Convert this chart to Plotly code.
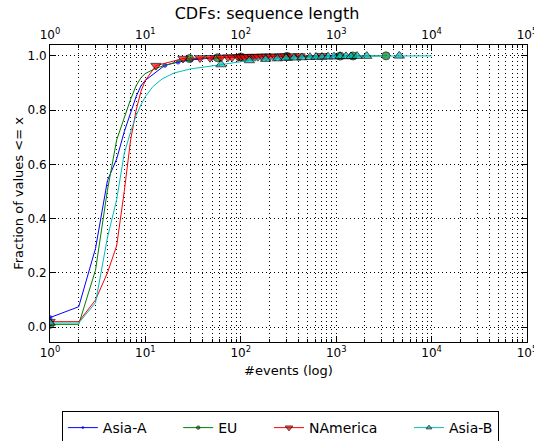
import plotly.graph_objects as go

# ---- data ----
series_names = ["Asia-A", "EU", "NAmerica", "Asia-B"]

asia_a_x = [1, 2, 3, 4, 5, 6, 7, 8, 9, 10, 16, 22, 30, 50, 100, 300, 1000]
asia_a_y = [0.035, 0.075, 0.29, 0.54, 0.62, 0.72, 0.79, 0.85, 0.89, 0.91,
            0.965, 0.977, 0.985, 0.992, 0.997, 0.999, 1.0]

eu_x = [1, 2, 3, 4, 5, 6, 7, 8, 9, 10, 13, 20, 29, 57, 100, 305, 1100, 1500, 3330]
eu_y = [0.01, 0.01, 0.21, 0.505, 0.69, 0.77, 0.84, 0.89, 0.92, 0.935, 0.955,
        0.975, 0.99, 0.993, 0.996, 0.998, 0.999, 0.9995, 1.0]

nam_x = [1, 2, 3, 4, 5, 6, 7, 8, 9, 10, 12.9, 24.8, 37.3, 47.6, 62, 73.4, 81,
         93.5, 100, 108, 119, 131, 141, 151, 167, 184, 202, 228, 258, 291, 344,
         418, 710]
nam_y = [0.02, 0.02, 0.1, 0.2, 0.3, 0.5, 0.69, 0.80, 0.87, 0.91, 0.964, 0.99,
         0.992, 0.993, 0.994, 0.995, 0.995, 0.996, 0.996, 0.996, 0.997, 0.997,
         0.997, 0.997, 0.998, 0.998, 0.998, 0.998, 0.999, 0.999, 0.999, 0.999, 1.0]

asia_b_x = [1, 2, 3, 4, 5, 6, 7, 8, 9, 10, 12, 15, 20, 30, 44, 62, 123, 182,
            241, 298, 361, 437, 531, 614, 710, 820, 948, 1096, 1267, 1430, 1652,
            2089, 4585, 10000]
asia_b_y = [0.015, 0.015, 0.09, 0.33, 0.47, 0.64, 0.72, 0.78, 0.82, 0.85, 0.887,
            0.915, 0.937, 0.952, 0.96, 0.968, 0.983, 0.988, 0.99, 0.992, 0.993,
            0.994, 0.995, 0.996, 0.996, 0.997, 0.997, 0.998, 0.998, 0.998, 0.999,
            0.999, 1.0, 1.0]

x_tick_vals = [1, 10, 100, 1000, 10000, 100000]
x_tick_text = ["10<sup>0</sup>", "10<sup>1</sup>", "10<sup>2</sup>",
               "10<sup>3</sup>", "10<sup>4</sup>", "10<sup>5</sup>"]
y_tick_vals = [0.0, 0.2, 0.4, 0.6, 0.8, 1.0]

# ---- styling ----
styles = [
    dict(color="#0000ff", symbol="circle", size=4, edge="#0000ff", lo=15, hi=1e9, pad=6),
    dict(color="#008000", symbol="circle", size=8, edge="black", lo=25, hi=1e9, pad=6),
    dict(color="#ff0000", symbol="triangle-down", size=9, edge="black", lo=12, hi=1e9, pad=6),
    dict(color="#00bfbf", symbol="triangle-up", size=9, edge="black", lo=60, hi=5000, pad=0),
]
data = [(asia_a_x, asia_a_y), (eu_x, eu_y), (nam_x, nam_y), (asia_b_x, asia_b_y)]

fig = go.Figure()
for name, (xs, ys), st in zip(series_names, data, styles):
    sizes = [st["size"] if (x == 1 or st["lo"] <= x <= st["hi"]) else 0 for x in xs]
    fig.add_trace(go.Scatter(
        x=xs, y=ys, name=name + "\u00a0" * st["pad"], mode="lines+markers",
        line=dict(color=st["color"], width=1),
        marker=dict(symbol=st["symbol"], size=sizes, color=st["color"],
                    line=dict(color=st["edge"], width=1)),
    ))

# invisible copy on the top axis so that it gets drawn
fig.add_trace(go.Scatter(x=asia_b_x, y=asia_b_y, xaxis="x2", mode="lines",
                         line=dict(width=0), opacity=0, showlegend=False,
                         hoverinfo="skip"))

minor_vals = [m * 10 ** d for d in range(0, 5) for m in range(2, 10)]
DOT = "1px,3px"

axis_common = dict(
    type="log", range=[0, 5], tickvals=x_tick_vals, ticktext=x_tick_text,
    showline=True, linecolor="black", linewidth=1,
    ticks="inside", ticklen=6, tickcolor="black",
    tickfont=dict(family="DejaVu Sans", size=12, color="black"),
    ticklabeloverflow="allow", automargin=False, zeroline=False,
)

fig.update_layout(
    width=534, height=441,
    margin=dict(l=50, r=7, t=45, b=99, autoexpand=False),
    paper_bgcolor="white", plot_bgcolor="white",
    font=dict(family="DejaVu Sans", color="black"),
    title=dict(text="CDFs: sequence length", x=0.5, xanchor="center",
               y=0.982, yanchor="top", font=dict(size=16, color="black")),
    xaxis=dict(
        **axis_common,
        showgrid=True, gridcolor="black", gridwidth=1, griddash=DOT,
        minor=dict(tickvals=minor_vals, showgrid=True, gridcolor="black",
                   griddash=DOT, gridwidth=1, ticks="inside", ticklen=3,
                   tickcolor="black"),
        title=dict(text="#events (log)", font=dict(size=13), standoff=6),
    ),
    xaxis2=dict(
        **axis_common,
        overlaying="x", side="top", showgrid=False,
        minor=dict(tickvals=minor_vals, ticks="inside", ticklen=3, tickcolor="black"),
    ),
    yaxis=dict(
        range=[-0.055, 1.04], tickvals=y_tick_vals, tickformat=".1f",
        showline=True, linecolor="black", linewidth=1, mirror="ticks",
        ticks="inside", ticklen=6, tickcolor="black",
        showgrid=True, gridcolor="black", gridwidth=1, griddash=DOT,
        zeroline=False, automargin=False,
        tickfont=dict(family="DejaVu Sans", size=12, color="black"),
        title=dict(text="Fraction of values <= x", font=dict(size=13), standoff=0),
    ),
    legend=dict(
        orientation="h", xref="container", yref="container",
        x=0.525, xanchor="center", y=0.068, yanchor="top",
        bordercolor="black", borderwidth=1, bgcolor="white",
        font=dict(size=14, color="black"), itemwidth=30,
    ),
)

fig.write_html("out.html",
               config={"displayModeBar": False},
               post_script="document.body.style.margin='0';document.body.style.overflow='hidden';")
